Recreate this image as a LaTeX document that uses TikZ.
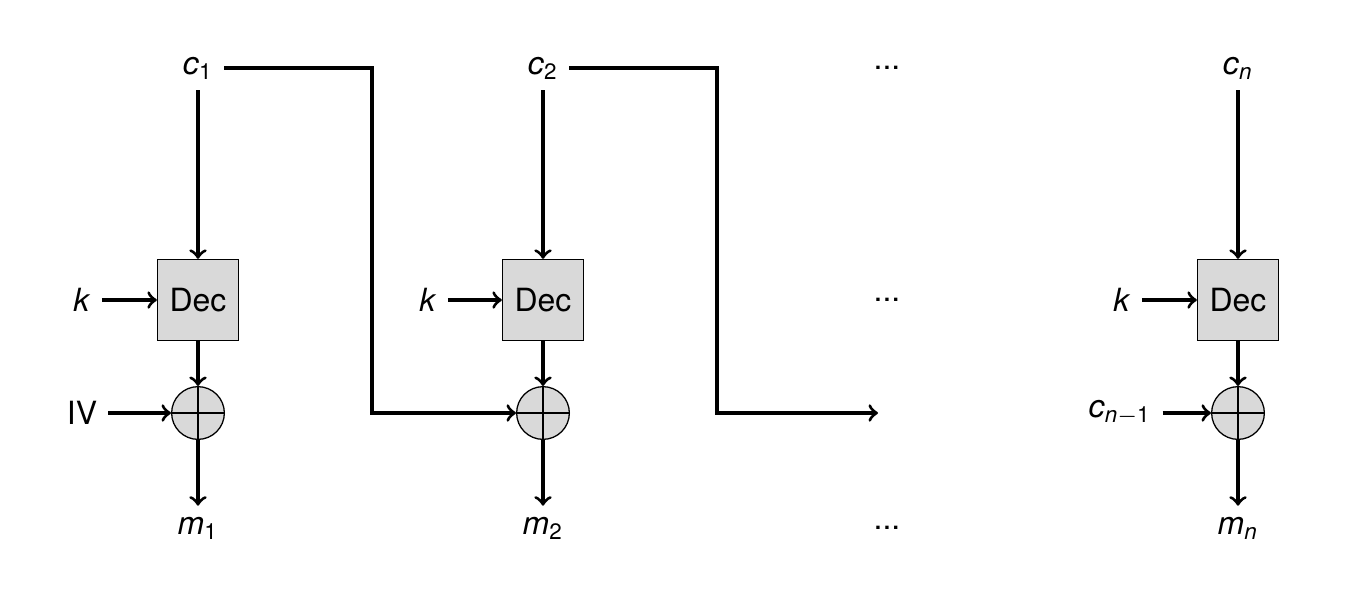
\documentclass[tikz,border=0pt]{standalone}
\usepackage{fontspec}
\setmainfont{TeX Gyre Heros}
\newcommand{\sym}[2]{\textit{#1}\textsubscript{#2}}
\tikzset{
  decbox/.style={draw, thin, fill=gray!30, minimum size=0.891cm, inner sep=0pt},
  xorgate/.style={draw, thin, circle, fill=gray!30, minimum size=0.58cm, inner sep=0pt,
    path picture={\draw[thin] (path picture bounding box.north) -- (path picture bounding box.south)
      (path picture bounding box.west) -- (path picture bounding box.east);}},
  flow/.style={line width=1pt, ->}
}
\begin{document}
\begin{tikzpicture}[x=0.011cm, y=-0.011cm]
\useasboundingbox (0,0) rectangle (1357,593);
% first block
\node (c1) at (198,68) {\sym{c}{1}};
\node[decbox] (dec1) at (198,300) {Dec};
\node[xorgate] (xor1) at (198,413) {};
\node (m1) at (198,528) {\sym{m}{1}};
\node (k1) at (82,300) {\textit{k}};
\node (iv) at (82,413) {IV};
% second block
\node (c2) at (543,68) {\sym{c}{2}};
\node[decbox] (dec2) at (543,300) {Dec};
\node[xorgate] (xor2) at (543,413) {};
\node (m2) at (543,528) {\sym{m}{2}};
\node (k2) at (428,300) {\textit{k}};
% dots
\node (dotsc) at (887,68) {...};
\node (dotsd) at (887,300) {...};
\node (dotsm) at (887,528) {...};
% last block
\node (cn) at (1238,68) {\sym{c}{\textit{n}}};
\node[decbox] (decn) at (1238,300) {Dec};
\node[xorgate] (xorn) at (1238,413) {};
\node (mn) at (1238,528) {\sym{m}{\textit{n}}};
\node (kn) at (1122,300) {\textit{k}};
\node (cprev) at (1120,413) {\sym{c}{\textit{n}$-$1}};
\coordinate (bend1) at (372,413);
\coordinate (bend2) at (717,413);
\coordinate (end2) at (878,413);
% connectors
\draw[flow] (c1) -- (dec1);
\draw[flow] (dec1) -- (xor1);
\draw[flow] (xor1) -- (m1);
\draw[flow] (k1) -- (dec1);
\draw[flow] (iv) -- (xor1);
\draw[flow] (c1.east) -| (bend1) -- (xor2.west);
\draw[flow] (c2) -- (dec2);
\draw[flow] (dec2) -- (xor2);
\draw[flow] (xor2) -- (m2);
\draw[flow] (k2) -- (dec2);
\draw[flow] (c2.east) -| (bend2) -- (end2);
\draw[flow] (cn) -- (decn);
\draw[flow] (decn) -- (xorn);
\draw[flow] (xorn) -- (mn);
\draw[flow] (kn) -- (decn);
\draw[flow] (cprev) -- (xorn);
\end{tikzpicture}
\end{document}
